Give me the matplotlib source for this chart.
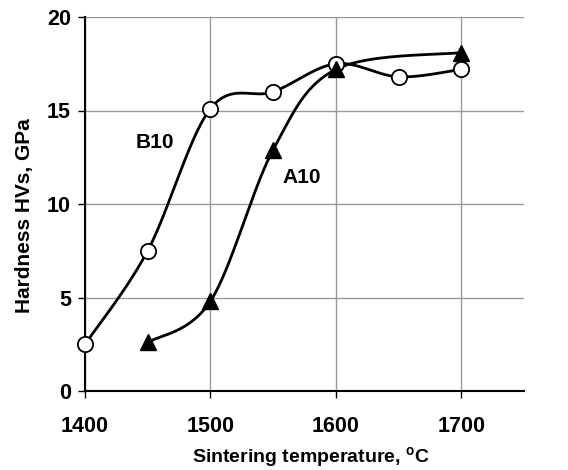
import numpy as np
import matplotlib
matplotlib.use("Agg")
import matplotlib.pyplot as plt

plt.rcParams['font.family'] = ['Liberation Sans', 'DejaVu Sans']
plt.rcParams['font.weight'] = 'bold'

b10_x = [1400, 1450, 1500, 1550, 1600, 1650, 1700]
b10_y = [2.5, 7.5, 15.1, 16.0, 17.5, 16.8, 17.2]
a10_x = [1450, 1500, 1550, 1600, 1700]
a10_y = [2.6, 4.8, 12.9, 17.2, 18.1]
x_ticks = [1400, 1500, 1600, 1700]
y_ticks = [0, 5, 10, 15, 20]
XMIN, XMAX, YMIN, YMAX = 1400, 1750, 0, 20

fig = plt.figure(figsize=(5.68, 4.70), dpi=100)
ax = fig.add_axes([85/568, 1-391/470, (524-85)/568, (391-17)/470])


def smooth(xs, ys, n=40):
    # Excel-like smoothing: Catmull-Rom bezier in normalized axis space
    sx = (XMAX - XMIN)
    sy = (YMAX - YMIN) * (374/439)
    P = np.column_stack([(np.array(xs) - XMIN) / sx, (np.array(ys) - YMIN) / sy])
    out = [P[0]]
    m = len(P)
    for i in range(m - 1):
        p0 = P[i - 1] if i > 0 else P[i]
        p1 = P[i]
        p2 = P[i + 1]
        p3 = P[i + 2] if i + 2 < m else P[i + 1]
        c1 = p1 + (p2 - p0) / 6
        c2 = p2 - (p3 - p1) / 6
        t = np.linspace(0, 1, n)[1:, None]
        seg = ((1 - t) ** 3) * p1 + 3 * ((1 - t) ** 2) * t * c1 + 3 * (1 - t) * t ** 2 * c2 + t ** 3 * p2
        out.extend(seg)
    out = np.array(out)
    return out[:, 0] * sx + XMIN, out[:, 1] * sy + YMIN


bx, by = smooth(b10_x, b10_y)
axx, ayy = smooth(a10_x, a10_y)
ax.plot(bx, by, color='black', lw=2, zorder=3, clip_on=False)
ax.plot(axx, ayy, color='black', lw=2, zorder=3, clip_on=False)
ax.plot(b10_x, b10_y, 'o', ms=11, mfc='white', mec='black', mew=1.3, zorder=4, clip_on=False)
ax.plot(a10_x, a10_y, '^', ms=11, mfc='black', mec='black', zorder=4, clip_on=False)

ax.text(1456, 13.3, 'B10', fontsize=15, fontweight='bold', ha='center', va='center')
ax.text(1573, 11.4, 'A10', fontsize=15, fontweight='bold', ha='center', va='center')

ax.set_xlim(XMIN, XMAX)
ax.set_ylim(YMIN, YMAX)
ax.set_xticks(x_ticks)
ax.set_yticks(y_ticks)
ax.tick_params(axis='both', direction='out', length=5, width=1, labelsize=15.5)
ax.tick_params(axis='x', pad=13)
ax.tick_params(axis='y', pad=5)
for lbl in ax.get_xticklabels() + ax.get_yticklabels():
    lbl.set_fontweight('bold')
ax.grid(True, color='#999999', lw=1)
ax.set_axisbelow(True)
for s in ['top', 'right']:
    ax.spines[s].set_visible(False)
for s in ['left', 'bottom']:
    ax.spines[s].set_linewidth(1.5)
ax.set_xlabel('Sintering temperature, $^\\mathregular{o}$C', fontsize=14, fontweight='bold')
ax.xaxis.label.set_va('baseline')
ax.xaxis.set_label_coords((311 - 85) / 439, (391 - 463) / 374)
ax.set_ylabel('Hardness HVs, GPa', fontsize=15, fontweight='bold')
ax.yaxis.label.set_va('center')
ax.yaxis.set_label_coords((25 - 85) / 439, (391 - 216) / 374)

fig.savefig('out.png', dpi=100)
